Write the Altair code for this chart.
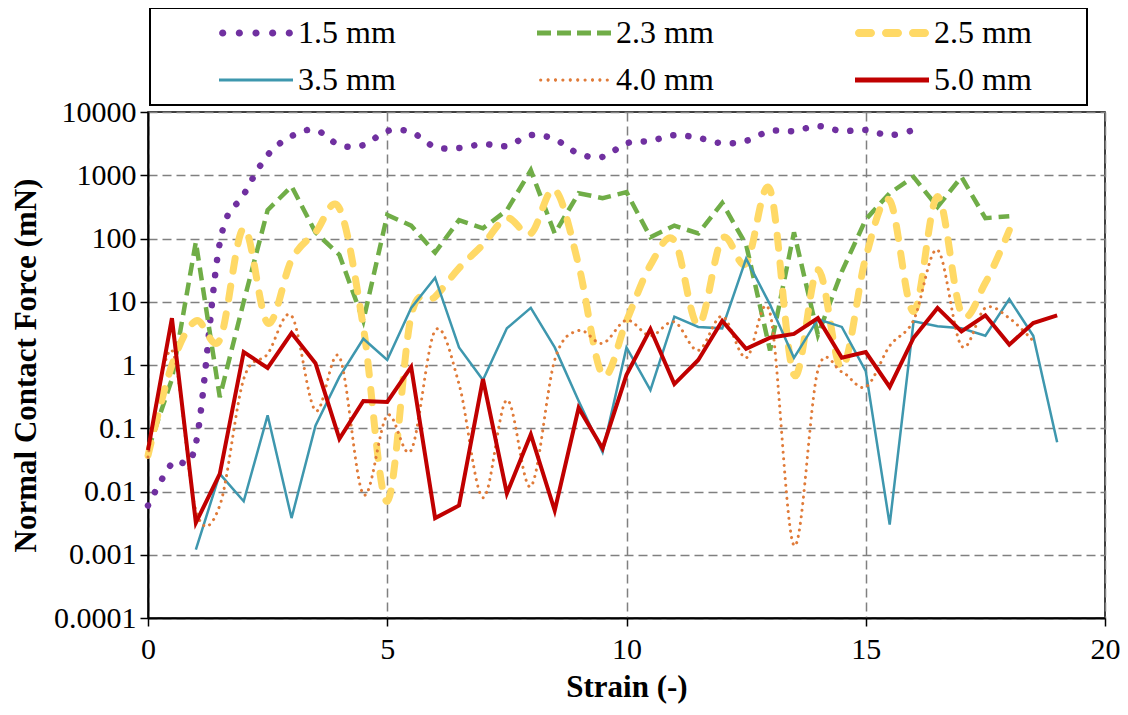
import altair as alt
import pandas as pd

# ---------------- data ----------------
STRAIN = [0, 0.5, 1, 1.5, 2, 2.5, 3, 3.5, 4, 4.5, 5, 5.5, 6, 6.5, 7, 7.5, 8, 8.5, 9, 9.5,
          10, 10.5, 11, 11.5, 12, 12.5, 13, 13.5, 14, 14.5, 15, 15.5, 16, 16.5, 17, 17.5,
          18, 18.5, 19]

SERIES = ["1.5 mm", "2.3 mm", "2.5 mm", "3.5 mm", "4.0 mm", "5.0 mm"]
COLORS = ["#7030A0", "#70AD47", "#FFD966", "#3E97AE", "#E07B39", "#C00000"]

F_15 = [0.006, 0.028, 0.057, 85, 490, 2080, 4150, 5200, 3000, 3000, 5000, 4800, 2800, 2700,
        3100, 2900, 4300, 3700, 2200, 1950, 3200, 3500, 4300, 3900, 3200, 3500, 5000, 5000,
        6000, 5000, 5200, 4300, 5200]
F_23 = [0.045, 0.6, 88, 0.31, 10, 280, 670, 125, 55, 5, 235, 160, 60, 195, 145, 280, 1200,
        120, 520, 435, 540, 105, 160, 120, 365, 80, 1.7, 125, 3, 30, 200, 520, 940, 315, 940,
        210, 225]
F_25 = [0.037, 1.0, 5, 2.5, 145, 4.6, 46, 125, 300, 4, 0.007, 6, 12, 34, 80, 210, 120, 590,
        38, 0.7, 5, 38, 93, 4.3, 100, 40, 590, 0.7, 32, 0.9, 50, 400, 7, 460, 6.6, 20, 135]
F_35 = [0.0012, 0.019, 0.007, 0.16, 0.0038, 0.11, 0.65, 2.6, 1.2, 8, 24, 1.9, 0.58, 3.8, 8,
        1.9, 0.27, 0.042, 1.9, 0.4, 5.8, 4, 3.8, 48, 9, 1.3, 5.3, 4, 0.8, 0.003, 4.9, 4.1,
        3.8, 2.9, 11, 2.9, 0.06]
F_40 = [0.035, 1.7, 0.005, 0.006, 0.6, 1.5, 6, 0.19, 1.35, 0.009, 0.16, 0.045, 3.5, 0.5,
        0.008, 0.28, 0.012, 1.2, 3.5, 2.2, 5.1, 2.9, 4.8, 1.7, 5.9, 1.3, 6.6, 0.0014, 0.83,
        0.78, 0.45, 2, 5.1, 66, 2, 8, 5.5, 2.4]
F_50 = [0.045, 5.5, 0.0032, 0.019, 1.6, 0.9, 3.2, 1.07, 0.068, 0.27, 0.26, 0.93, 0.0038,
        0.006, 0.6, 0.0093, 0.08, 0.005, 0.21, 0.048, 0.7, 3.7, 0.5, 1.2, 5, 1.8, 2.7, 3.1,
        5.5, 1.3, 1.6, 0.45, 2.7, 8, 3.4, 6.1, 2.1, 4.6, 6.1]

VALUES = [F_15, F_23, F_25, F_35, F_40, F_50]
FIRST_STRAIN = [0, 0, 0, 1, 0, 0]

Y_TICKS = [0.0001, 0.001, 0.01, 0.1, 1, 10, 100, 1000, 10000]
X_TICKS = [0, 5, 10, 15, 20]

rows = []
for name, vals, first in zip(SERIES, VALUES, FIRST_STRAIN):
    i0 = STRAIN.index(first)
    for s, v in zip(STRAIN[i0:i0 + len(vals)], vals):
        rows.append({"series": name, "strain": s, "force": v})
df = pd.DataFrame(rows)

# ---------------- styles ----------------
FONT = "Liberation Serif"
STYLES = {
    "1.5 mm": dict(strokeWidth=6.5, strokeDash=[0.1, 15], strokeCap="round", interpolate="cardinal"),
    "2.3 mm": dict(strokeWidth=4.5, strokeDash=[13, 7], strokeCap="butt", interpolate="linear"),
    "2.5 mm": dict(strokeWidth=7, strokeDash=[13, 15], strokeCap="round", interpolate="cardinal"),
    "3.5 mm": dict(strokeWidth=2.5, interpolate="linear"),
    "4.0 mm": dict(strokeWidth=3, strokeDash=[0.1, 6.5], strokeCap="round", interpolate="cardinal"),
    "5.0 mm": dict(strokeWidth=4, interpolate="linear"),
}

# legend geometry
LEG_FONT = 32
SYM_W = 30.0                 # nominal symbol box (px); entry row height comes from font size
U = SYM_W / 2.0              # px per symbol unit
CENTER = LEG_FONT / 2.0      # symbol centre inside its entry (px)
SYM_START = 60.0             # drawn symbol start inside an entry (px)
DRAWN = 74.0                 # drawn symbol length (px)
LABEL_X = SYM_START + DRAWN + 5
BLANK = "\u2800"             # blank (non-whitespace) glyph used as right-hand spacer


def _u(px):
    return (SYM_START + px - CENTER) / U


ANCHOR = f"M{-CENTER / U:.4f},0L{-CENTER / U + 0.002:.4f},0L{-CENTER / U:.4f},0.002Z"


def circ(cx_px, r_px):
    cx, r = _u(cx_px), r_px / U
    return (f"M{cx - r:.4f},0A{r:.4f},{r:.4f} 0 1,0 {cx + r:.4f},0"
            f"A{r:.4f},{r:.4f} 0 1,0 {cx - r:.4f},0Z")


def rect(a_px, b_px, h_px):
    a, b, h = _u(a_px), _u(b_px), h_px / U
    return f"M{a:.4f},{-h:.4f}L{b:.4f},{-h:.4f}L{b:.4f},{h:.4f}L{a:.4f},{h:.4f}Z"


def pill(a_px, b_px, h_px):
    h = h_px / U
    a, b = _u(a_px) + h, _u(b_px) - h
    return (f"M{a:.4f},{-h:.4f}L{b:.4f},{-h:.4f}A{h:.4f},{h:.4f} 0 0,1 {b:.4f},{h:.4f}"
            f"L{a:.4f},{h:.4f}A{h:.4f},{h:.4f} 0 0,1 {a:.4f},{-h:.4f}Z")


PATHS = [
    ANCHOR + "".join(circ(3.7 + 16.65 * i, 3.6) for i in range(5)),
    ANCHOR + "".join(rect(20 * i, 20 * i + 14, 2.6) for i in range(4)),
    ANCHOR + "".join(pill(27 * i, 27 * i + 20, 4.0) for i in range(3)),
    ANCHOR + rect(0, DRAWN, 1.6),
    ANCHOR + "".join(circ(3.7 + 7.4 * i, 1.6) for i in range(10)),
    ANCHOR + rect(0, DRAWN, 2.6),
]

color_scale = alt.Scale(domain=SERIES, range=COLORS)

x_enc = alt.X(
    "strain:Q",
    scale=alt.Scale(domain=[0, 20], nice=False),
    axis=alt.Axis(
        values=X_TICKS, title="Strain (-)", grid=True, gridColor="#808080",
        gridDash=[9, 5], gridWidth=1.5, domainColor="black", domainWidth=2,
        tickColor="black", tickSize=8, tickWidth=1.5, labelFont=FONT, labelFontSize=30,
        labelColor="black", labelPadding=8, labelFlush=False, labelOverlap=False,
        titleFont=FONT, titleFontSize=31, titleFontWeight="bold", titleColor="black",
        titlePadding=8,
    ),
)
y_enc = alt.Y(
    "force:Q",
    scale=alt.Scale(type="log", domain=[0.0001, 10000], nice=False),
    axis=alt.Axis(
        values=Y_TICKS, format="~g", title="Normal Contact Force (mN)", grid=True,
        gridColor="#808080", gridDash=[9, 5], gridWidth=1.5, domainColor="black",
        domainWidth=2, tickColor="black", tickSize=8, tickWidth=1.5, labelFont=FONT,
        labelFontSize=30, labelColor="black", labelPadding=4, labelOverlap=False,
        titleFont=FONT, titleFontSize=31, titleFontWeight="bold", titleColor="black",
        titlePadding=11,
    ),
)

layers = []
for name, col in zip(SERIES, COLORS):
    layers.append(
        alt.Chart(df)
        .transform_filter(alt.datum.series == name)
        .mark_line(color=col, **STYLES[name])
        .encode(x=x_enc, y=y_enc)
    )

legend = alt.Legend(
    title=None, orient="none", legendX=2, legendY=-104, direction="horizontal", columns=3,
    padding=9, rowPadding=15, columnPadding=34, strokeColor="black",
    labelFont=FONT, labelFontSize=LEG_FONT, labelColor="black",
    labelOffset=LABEL_X - LEG_FONT, labelLimit=0,
    labelExpr="datum.label + '" + BLANK * 2 + "'",
    symbolSize=SYM_W * SYM_W, symbolStrokeWidth=0, symbolOpacity=1,
)

legend_layer = (
    alt.Chart(df)
    .mark_point(filled=True, opacity=0)
    .encode(
        x=x_enc, y=y_enc,
        color=alt.Color("series:N", scale=color_scale, legend=legend),
        shape=alt.Shape("series:N", scale=alt.Scale(domain=SERIES, range=PATHS), legend=legend),
    )
)

chart = (
    alt.layer(*layers, legend_layer)
    .properties(
        width=957, height=506,
        autosize=alt.AutoSizeParams(type="none"),
        padding={"left": 140, "top": 104, "right": 15, "bottom": 89},
        background="white",
    )
    .configure_view(stroke="black", strokeWidth=1.5)
    .configure_legend(strokeWidth=2)
)

chart.save("out.html", embed_options={"renderer": "svg", "actions": False})
